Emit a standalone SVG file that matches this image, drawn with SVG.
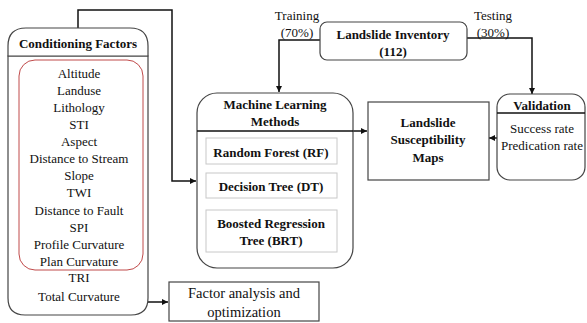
<svg xmlns="http://www.w3.org/2000/svg" width="587" height="323" viewBox="0 0 587 323">
<defs>
<marker id="arr" markerWidth="6" markerHeight="6" refX="6" refY="3" orient="auto" markerUnits="userSpaceOnUse">
<path d="M0,0 L6,3 L0,6 Z" fill="#111"/>
</marker>
</defs>
<style>
text{font-family:'Liberation Serif','DejaVu Serif',serif;font-size:13px;fill:#111;text-anchor:middle}
.b{font-weight:bold}
.box{fill:#fff;stroke:#444;stroke-width:1.2}
.inner{fill:#fff;stroke:#c8c8c8;stroke-width:1}
.ln{fill:none;stroke:#111;stroke-width:1.5}
</style>
<rect width="587" height="323" fill="#fff"/>
<g id="connectors">
<path class="ln" d="M78,28 V10 H172 V181 H196" marker-end="url(#arr)"/>
<path class="ln" d="M148,302 H168" marker-end="url(#arr)"/>
<path class="ln" d="M320,40 H279 V92" marker-end="url(#arr)"/>
<path class="ln" d="M467,38 H532 V94" marker-end="url(#arr)"/>
<path class="ln" d="M197,131 H367" marker-end="url(#arr)"/>
<path class="ln" d="M497,138 H489" marker-end="url(#arr)"/>
<text x="297" y="19.5" font-family="Liberation Serif, serif">Training</text>
<text x="297" y="36.5">(70%)</text>
<text x="493" y="19.5">Testing</text>
<text x="493" y="37">(30%)</text>
</g>
<g id="conditioning">
<path class="box" d="M8,56 V298 Q8,315 25,315 H131 Q148,315 148,298 V56 Z"/>
<path class="box" d="M8,56 V46 Q8,28 26,28 H130 Q148,28 148,46 V56 Z"/>
<text class="b" x="78" y="47.5">Conditioning Factors</text>
<rect x="19" y="60" width="124" height="210" rx="16" fill="none" stroke="#c04a4a" stroke-width="1"/>
<text x="79" y="77.5">Altitude</text>
<text x="79" y="94.5">Landuse</text>
<text x="79" y="111.5">Lithology</text>
<text x="79" y="128.5">STI</text>
<text x="79" y="145.5">Aspect</text>
<text x="79" y="162.5">Distance to Stream</text>
<text x="79" y="179.5">Slope</text>
<text x="79" y="196.5">TWI</text>
<text x="79" y="214.5">Distance to Fault</text>
<text x="79" y="231.5">SPI</text>
<text x="79" y="248.5">Profile Curvature</text>
<text x="79" y="265.5">Plan Curvature</text>
<text x="79" y="281.5">TRI</text>
<text x="79" y="300.5">Total Curvature</text>
</g>
<g id="inventory">
<rect class="box" x="320" y="22" width="147" height="38" rx="7"/>
<text class="b" x="393" y="38.5">Landslide Inventory</text>
<text class="b" x="393" y="55.5">(112)</text>
</g>
<g id="ml">
<rect class="box" x="197" y="93" width="156" height="175" rx="20"/>
<line x1="197" y1="131" x2="353" y2="131" stroke="#111" stroke-width="1.5"/>
<text class="b" x="275" y="108.5">Machine Learning</text>
<text class="b" x="275" y="125.5">Methods</text>
<rect class="inner" x="206" y="138" width="131" height="26"/>
<text class="b" x="271" y="156.5">Random Forest (RF)</text>
<rect class="inner" x="206" y="173" width="131" height="25"/>
<text class="b" x="271" y="190.5">Decision Tree (DT)</text>
<rect class="inner" x="206" y="210" width="131" height="42"/>
<text class="b" x="271" y="227.5">Boosted Regression</text>
<text class="b" x="271" y="244.5">Tree (BRT)</text>
</g>
<g id="maps">
<rect class="box" x="368" y="102" width="121" height="78"/>
<text class="b" x="428" y="126.5">Landslide</text>
<text class="b" x="428" y="143.5">Susceptibility</text>
<text class="b" x="428" y="161.5">Maps</text>
</g>
<g id="validation">
<rect class="box" x="497" y="94" width="88" height="86" rx="13"/>
<line x1="497" y1="113" x2="585" y2="113" stroke="#111" stroke-width="1.5"/>
<text class="b" x="542" y="109.5">Validation</text>
<text x="542" y="132.5">Success rate</text>
<text x="542" y="149.5">Predication rate</text>
</g>
<g id="factor">
<rect class="box" x="169" y="282" width="150" height="39"/>
<text x="244" y="298" style="font-size:14.5px">Factor analysis  and</text>
<text x="244" y="317" style="font-size:14.5px">optimization</text>
</g>
</svg>
